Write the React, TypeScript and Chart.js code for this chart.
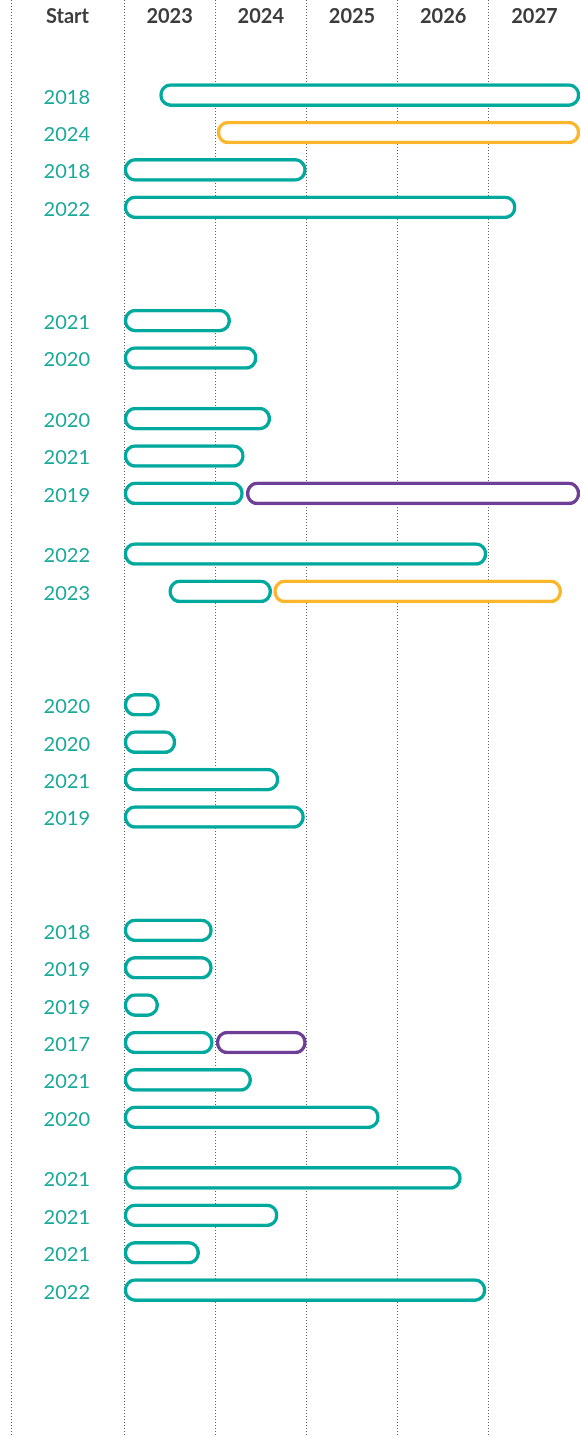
import React, { useEffect, useRef } from 'react';
import { Chart, registerables } from 'chart.js';

Chart.register(...registerables);

// ---- data ----
const startYears = [
  '2018', '2024', '2018', '2022',
  '2021', '2020',
  '2020', '2021', '2019',
  '2022', '2023',
  '2020', '2020', '2021', '2019',
  '2018', '2019', '2019', '2017', '2021', '2020',
  '2021', '2021', '2021', '2022',
];
// sections (separated by wide gaps) made of groups (separated by narrow gaps): rows per group
const sectionGroups = [[4], [2, 3, 2], [4], [6, 4]];
const yearTicks = [2023, 2024, 2025, 2026, 2027, 2028];

// first phase (teal) span per row, null where the row has none
const tealSpans: ([number, number] | null)[] = [
  [2023.39, 2028], null, [2023, 2025], [2023, 2027.3],
  [2023, 2024.17], [2023, 2024.46],
  [2023, 2024.61], [2023, 2024.32], [2023, 2024.31],
  [2023, 2026.98], [2023.49, 2024.62],
  [2023, 2023.39], [2023, 2023.57], [2023, 2024.7], [2023, 2024.98],
  [2023, 2023.97], [2023, 2023.97], [2023, 2023.38], [2023, 2023.98], [2023, 2024.4], [2023, 2025.8],
  [2023, 2026.7], [2023, 2024.69], [2023, 2023.83], [2023, 2026.97],
];
const yellowRows = [1, 10];
const yellowSpans: [number, number][] = [[2024.02, 2028], [2024.64, 2027.8]];
const purpleRows = [8, 18];
const purpleSpans: [number, number][] = [[2024.34, 2028], [2024.01, 2025.0]];

// ---- layout constants ----
const NARROW_GAP = 1.62;
const WIDE_GAP = 3.03;
const TEAL = '#00a99d';
const YELLOW = '#fbb62b';
const PURPLE = '#6e3f97';
const LABEL_TEAL = '#19a999';
const HEADER = '#3c3c3c';
const GRID = '#5e5e5e';
const FONT = 'Lato, "Open Sans", sans-serif';
const HEADER_SIZE = 20;
const HEADER_LH = 1.2;
const HEADER_CENTER = 17;
const HEADER_PAD = -(HEADER_CENTER + (HEADER_SIZE * HEADER_LH) / 2);

const rowPos: number[] = [];
(() => {
  let p = 0;
  sectionGroups.forEach((sec, si) => {
    if (si > 0) p += WIDE_GAP - 1;
    sec.forEach((n, gi) => {
      if (gi > 0) p += NARROW_GAP - 1;
      for (let i = 0; i < n; i++) {
        rowPos.push(p);
        p += 1;
      }
    });
  });
})();

const toPoints = (rows: number[], spans: [number, number][]) =>
  rows.map((r, i) => ({ x: spans[i], y: rowPos[r] }));

const tealPoints = tealSpans
  .map((s, i) => (s ? { x: s, y: rowPos[i] } : null))
  .filter((d) => d !== null);

const decorPlugin = {
  id: 'decor',
  beforeDatasetsDraw(chart: any) {
    const ctx = chart.ctx;
    const ys = chart.scales.y;
    const x = Math.round(ys.left) + 0.5;
    ctx.save();
    ctx.strokeStyle = GRID;
    ctx.lineWidth = 1;
    ctx.setLineDash([1, 2]);
    ctx.beginPath();
    ctx.moveTo(x, 0);
    ctx.lineTo(x, chart.height);
    ctx.stroke();
    ctx.restore();
  },
  afterDraw(chart: any) {
    const ctx = chart.ctx;
    const ys = chart.scales.y;
    const xs = chart.scales.x;
    ctx.save();
    ctx.fillStyle = HEADER;
    ctx.font = `bold ${HEADER_SIZE}px ${FONT}`;
    ctx.textAlign = 'center';
    ctx.textBaseline = 'middle';
    ctx.fillText('Start', (ys.left + ys.right) / 2, xs.bottom - xs.height + HEADER_CENTER);
    ctx.restore();
  },
};

const barStyle = {
  backgroundColor: '#ffffff',
  borderWidth: 3.5,
  borderRadius: 12,
  borderSkipped: false,
  barThickness: 23,
  grouped: false,
};

export default function App() {
  const ref = useRef<HTMLCanvasElement>(null);

  useEffect(() => {
    document.documentElement.style.overflow = 'hidden';
    const chart = new Chart(ref.current!, {
      type: 'bar',
      data: {
        datasets: [
          { label: 'phase 1', data: tealPoints as any, borderColor: TEAL, ...barStyle },
          { label: 'phase 2a', data: toPoints(yellowRows, yellowSpans) as any, borderColor: YELLOW, ...barStyle },
          { label: 'phase 2b', data: toPoints(purpleRows, purpleSpans) as any, borderColor: PURPLE, ...barStyle },
        ],
      },
      options: {
        indexAxis: 'y',
        animation: false,
        responsive: true,
        maintainAspectRatio: false,
        layout: { padding: { left: 11, right: 1, top: 0, bottom: 0 } },
        plugins: { legend: { display: false }, tooltip: { enabled: false } },
        scales: {
          x: {
            type: 'linear',
            position: 'top',
            min: 2023,
            max: 2028,
            offset: false,
            afterBuildTicks: (scale: any) => {
              scale.ticks = yearTicks.map((v) => ({ value: v }));
            },
            afterFit: (scale: any) => {
              scale.height = 36;
              scale.paddingLeft = 0;
              scale.paddingRight = 0;
            },
            grid: {
              color: (c: any) => (c.tick && c.tick.value === 2028 ? 'rgba(0,0,0,0)' : GRID),
              lineWidth: 1,
              drawTicks: true,
              tickLength: 36,
              tickBorderDash: [1, 2],
            },
            border: { display: false, dash: [1, 2] },
            ticks: {
              autoSkip: false,
              maxRotation: 0,
              padding: HEADER_PAD,
              labelOffset: 45.6,
              color: HEADER,
              font: { family: FONT, size: HEADER_SIZE, weight: 'bold', lineHeight: HEADER_LH },
              callback: (v: any) => (v === 2028 ? '' : String(v)),
            },
          },
          y: {
            type: 'linear',
            reverse: true,
            offset: false,
            min: -1.58,
            max: 35.85,
            afterBuildTicks: (scale: any) => {
              scale.ticks = rowPos.map((v) => ({ value: v }));
            },
            afterFit: (scale: any) => {
              scale.width = 113;
              scale.paddingTop = 0;
              scale.paddingBottom = 0;
            },
            grid: { display: false, drawTicks: false },
            border: { display: false },
            ticks: {
              autoSkip: false,
              crossAlign: 'center',
              padding: 34,
              labelOffset: 2,
              color: LABEL_TEAL,
              font: { family: FONT, size: 20, weight: 'normal' },
              callback: (_v: any, i: number) => startYears[i],
            },
          },
        },
      },
      plugins: [decorPlugin],
    });
    return () => chart.destroy();
  }, []);

  return (
    <div style={{ position: 'absolute', left: 0, top: 0, width: 581, height: 1436 }}>
      <canvas ref={ref} />
    </div>
  );
}
